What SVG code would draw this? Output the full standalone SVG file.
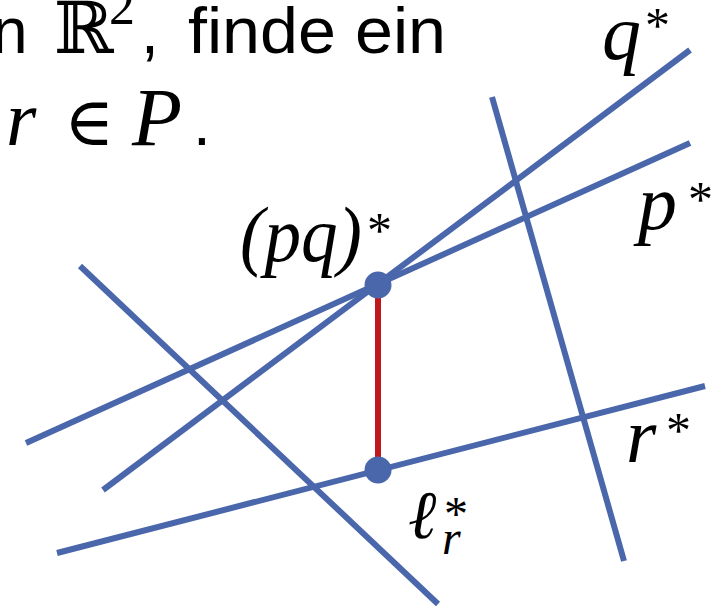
<svg xmlns="http://www.w3.org/2000/svg" width="720" height="611" viewBox="0 0 720 611">
<style>
.ln{stroke:#4a67ab;stroke-width:6;fill:none;stroke-linecap:butt}
.seg{stroke:#c0171f;stroke-width:6}
.dot{fill:#4a67ab}
.sans{font-family:"Liberation Sans","DejaVu Sans",sans-serif;fill:#000}
.mi{font-family:"Liberation Serif","DejaVu Serif",serif;font-style:italic;fill:#000}
.mr{font-family:"Liberation Serif","DejaVu Serif",serif;fill:#000}
</style>
<rect width="720" height="611" fill="#fff"/>
<g id="title">
<text class="sans" x="-8" y="53" font-size="64">n</text>
<text class="mr" x="54" y="53" font-size="72">ℝ</text>
<text class="mr" x="109" y="24" font-size="52">2</text>
<text class="sans" x="141" y="53" font-size="64">,</text>
<text class="sans" x="188" y="53" font-size="64" textLength="258" lengthAdjust="spacingAndGlyphs">finde ein</text>
<text class="mi" x="6" y="145" font-size="78">r</text>
<text class="mr" x="64" y="145" font-size="68">∈</text>
<text class="mi" x="132" y="145" font-size="82">P</text>
<text class="sans" x="193" y="145" font-size="64">.</text>
</g>
<g id="connectors">
<line class="ln" x1="103" y1="490" x2="690" y2="50"/>
<line class="ln" x1="26" y1="443" x2="690" y2="143"/>
<line class="ln" x1="57" y1="553" x2="705" y2="386"/>
<line class="ln" x1="492" y1="97" x2="624" y2="561"/>
<line class="ln" x1="80" y1="266" x2="438" y2="604"/>
<line class="seg" x1="378" y1="285" x2="378" y2="470"/>
</g>
<g id="pq"><circle class="dot" cx="378" cy="285" r="13.5"/>
<text class="mi" x="240" y="261" font-size="78" textLength="122" lengthAdjust="spacingAndGlyphs">(pq)</text>
<text class="mr" x="367" y="247" font-size="50">*</text></g>
<g id="lr"><circle class="dot" cx="378" cy="470" r="13.5"/>
<text class="mi" x="408" y="538" font-size="68">ℓ</text>
<text class="mr" x="444" y="530" font-size="48">*</text>
<text class="mi" x="442" y="554" font-size="48">r</text></g>
<g id="q"><text class="mi" x="602" y="59" font-size="78">q</text>
<text class="mr" x="645" y="42" font-size="50">*</text></g>
<g id="p"><text class="mi" x="638" y="229" font-size="78">p</text>
<text class="mr" x="688" y="216" font-size="50">*</text></g>
<g id="r"><text class="mi" x="626" y="462" font-size="78">r</text>
<text class="mr" x="666" y="447" font-size="50">*</text></g>
</svg>
